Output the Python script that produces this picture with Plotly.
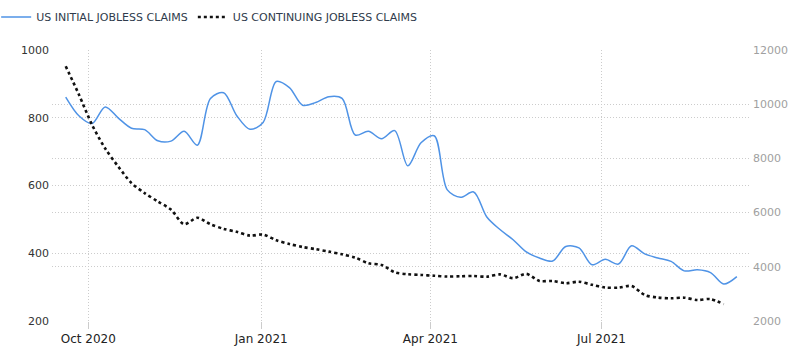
import pandas as pd
import plotly.graph_objects as go

initial_dates = pd.date_range("2020-09-19", periods=52, freq="7D")
continuing_dates = pd.date_range("2020-09-19", periods=51, freq="7D")

initial_claims = [861, 806, 783, 832, 799, 769, 765, 732, 731, 760, 719, 857, 874,
                  806, 766, 786, 907, 889, 837, 845, 862, 857, 749, 760, 738, 762,
                  658, 726, 747, 587, 565, 581, 507, 470, 440, 404, 386, 377, 420,
                  416, 366, 382, 368, 422, 398, 386, 376, 348, 351, 343, 309, 331]

continuing_claims = [11400, 10360, 9240, 8365, 7694, 7090, 6720, 6410, 6110, 5570,
                     5810, 5570, 5400, 5290, 5150, 5190, 4980, 4840, 4730, 4650,
                     4560, 4460, 4340, 4130, 4070, 3800, 3725, 3700, 3670, 3640,
                     3650, 3660, 3635, 3720, 3580, 3740, 3480, 3476, 3395, 3450,
                     3335, 3235, 3230, 3290, 2960, 2865, 2838, 2860, 2775, 2810, 2620]

left_ticks = [200, 400, 600, 800, 1000]
right_ticks = [2000, 4000, 6000, 8000, 10000, 12000]
right_ticklabels = ["2000", "4000", "6000", "8000", "10000", "12000"]
x_ticks = ["2020-10-01", "2021-01-01", "2021-04-01", "2021-07-01"]
x_ticklabels = ["Oct 2020", "Jan 2021", "Apr 2021", "Jul 2021"]

fig = go.Figure()
fig.add_trace(go.Scatter(
    x=initial_dates, y=initial_claims, name="US INITIAL JOBLESS CLAIMS",
    mode="lines", line=dict(color="#4f93e6", width=1.5, shape="spline", smoothing=0.9),
    yaxis="y"))
fig.add_trace(go.Scatter(
    x=continuing_dates, y=continuing_claims, name="US CONTINUING JOBLESS CLAIMS",
    mode="lines", line=dict(color="#111111", width=2.6, dash="dot", shape="spline", smoothing=0.8),
    yaxis="y2"))

grid = "#cccccc"
gdash = "1px,2px"
fig.update_layout(
    width=800, height=361,
    margin=dict(l=52, r=50, t=50, b=40, autoexpand=False),
    paper_bgcolor="white", plot_bgcolor="white",
    font=dict(family="DejaVu Sans", size=11, color="#333"),
    showlegend=True,
    legend=dict(orientation="h", x=-0.080, y=1.122, xanchor="left", yanchor="middle",
                font=dict(size=11, color="#2f3b4c", family="DejaVu Sans"),
                bgcolor="rgba(0,0,0,0)", itemwidth=30, tracegroupgap=0),
    xaxis=dict(range=["2020-09-11 17:00", "2021-09-18"], tickvals=x_ticks, ticktext=x_ticklabels,
               showgrid=True, gridcolor=grid, griddash=gdash, gridwidth=1,
               ticks="outside", ticklen=7, tickcolor=grid,
               tickfont=dict(size=12, color="#222", family="DejaVu Sans"),
               showline=False, zeroline=False),
    yaxis=dict(range=[200, 1000], tickvals=left_ticks, showgrid=True, gridcolor=grid,
               griddash=gdash, zeroline=False, showline=False,
               tickfont=dict(size=11, color="#333"), ticks="", ticklabelstandoff=2),
    yaxis2=dict(range=[2000, 12000], tickvals=right_ticks, ticktext=right_ticklabels,
                overlaying="y", side="right",
                showgrid=True, gridcolor=grid, griddash=gdash, zeroline=False,
                showline=False, tickfont=dict(size=11, color="#a0a0a0"), ticks="",
                ticklabelstandoff=2),
)

fig.write_html("out.html", config={"displayModeBar": False},
               post_script="document.body.style.margin='0';")
